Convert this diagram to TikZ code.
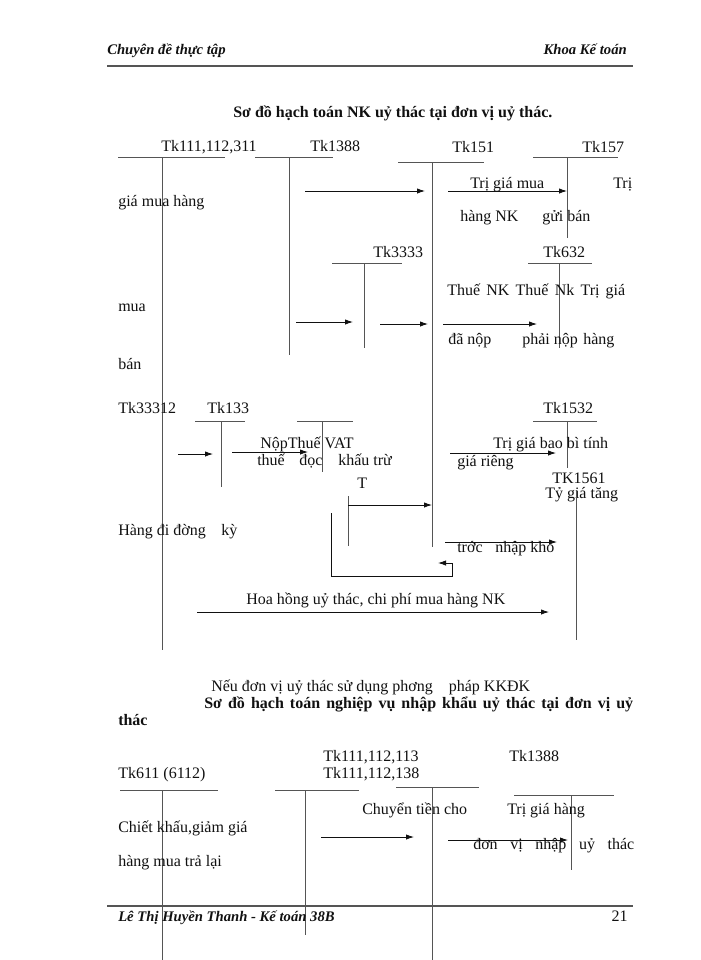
\documentclass[tikz,border=0pt]{standalone}
\usepackage{fontspec}
\setmainfont{Liberation Serif}
\usetikzlibrary{arrows.meta}
\definecolor{ink}{HTML}{111111}
\definecolor{rulegray}{HTML}{555555}
\newcommand{\bodysize}{\fontsize{12}{14}\selectfont}
\newcommand{\tacct}[5]{\draw[acc] (#1,#3) -- (#2,#3) (#4,#3) -- (#4,#5);}

\begin{document}
\begin{tikzpicture}[
  x=0.75pt, y=-0.75pt,
  font=\bodysize,
  txt/.style={anchor=mid west, inner sep=0pt, text=ink},
  head/.style={txt, font=\fontsize{11}{13}\selectfont\bfseries\itshape},
  ttl/.style={txt, font=\bodysize\bfseries},
  acc/.style={draw=rulegray, line width=0.7pt},
  flow/.style={-{Latex[length=6pt,width=4pt]}, draw=ink, line width=0.6pt}
]
\fill[white] (0,0) rectangle (700,960);
\useasboundingbox (0,0) rectangle (700,960);

\node[head] (hdl) at (107,51) {Chuyên đề thực tập};
\node[head, anchor=mid east] (hdr) at (627,51) {Khoa Kế toán};
\draw[rulegray, line width=1.3pt] (107,66) -- (633,66);

\node[ttl] (ttl1) at (233,114) {Sơ đồ hạch toán NK uỷ thác tại đơn vị uỷ thác.};

\node[txt] (tk111) at (161,148) {Tk111,112,311};
\tacct{118}{225}{157}{162}{650}
\node[txt] (tk1388) at (310,148) {Tk1388};
\tacct{255}{333}{157}{289}{355}
\node[txt] (tk151) at (452,149) {Tk151};
\tacct{398}{484}{162}{432}{547}
\node[txt] (tk157) at (582,149) {Tk157};
\tacct{533}{618}{157}{567}{238}

\draw[flow] (305,191) -- (425,191);
\draw[flow] (448,191) -- (567,191);
\node[txt] (buy) at (470,185) {Trị giá mua};
\node[txt] (buyR) at (613,185) {Trị};
\node[txt] (buyL) at (118,203) {giá mua hàng};
\node[txt] (nk) at (460,218) {hàng NK};
\node[txt] (sent) at (542,218) {gửi bán};

\node[txt] (tk3333) at (373,254) {Tk3333};
\tacct{332}{402}{263}{364}{348}
\node[txt] (tk632) at (543,254) {Tk632};
\tacct{528}{592}{263}{559}{348}
\node[txt] (duty) at (447,292) {\makebox[133.5pt][s]{Thuế NK Thuế Nk Trị giá}};
\node[txt] (costL) at (118,308) {mua};
\draw[flow] (296,322) -- (353,322);
\draw[flow] (380,324) -- (428,324);
\draw[flow] (443,324) -- (537,324);
\node[txt] (paid) at (448,341) {đã nộp};
\node[txt] (due) at (522,341) {phải nộp};
\node[txt] (goods) at (583,341) {hàng};
\node[txt] (sold) at (118,366) {bán};

\node[txt] (tk33312) at (118,410) {Tk33312};
\node[txt] (tk133) at (207,410) {Tk133};
\tacct{195}{245}{421}{221}{487}
\tacct{297}{353}{421}{322}{472}
\draw[flow] (178,454) -- (213,454);
\draw[flow] (232,452) -- (308,452);
\node[txt] (vat) at (260,445) {NộpThuế VAT};
\node[txt] (vatA) at (257,462) {thuế};
\node[txt] (vatB) at (299,462) {đọc};
\node[txt] (vatC) at (338,462) {khấu trừ};
\node[txt] (tT) at (357,485) {T};
\draw[acc] (348,496) -- (348,546);
\draw[flow] (348,505) -- (432,505);
\draw[flow] (331,513) -- (331,576) -- (452,576) -- (452,563) -- (438,563);

\node[txt] (tk1532) at (543,410) {Tk1532};
\tacct{533}{597}{421}{567}{468}
\draw[flow] (450,453) -- (556,453);
\node[txt] (pack) at (493,445) {Trị giá bao bì tính};
\node[txt] (packL) at (457,463) {giá riêng};
\node[txt] (tk1561) at (552,480) {TK1561};
\node[txt] (rate) at (545,495) {Tỷ giá tăng};
\draw[acc] (576,490) -- (576,640);

\node[txt] (transit) at (118,532) {Hàng đi đờng};
\node[txt] (transitB) at (221,532) {kỳ};
\draw[flow] (445,542) -- (557,542);
\node[txt] (store) at (457,549) {trớc};
\node[txt] (storeB) at (495,549) {nhập kho};
\node[txt] (fee) at (246,601) {Hoa hồng uỷ thác, chi phí mua hàng NK};
\draw[flow] (197,612) -- (549,612);

\node[txt] (kkdk) at (211,688) {Nếu đơn vị uỷ thác sử dụng phơng\quad pháp KKĐK};
\node[ttl] (ttl2) at (204,705) {\makebox[321.75pt][s]{Sơ đồ hạch toán nghiệp vụ nhập khẩu uỷ thác tại đơn vị uỷ}};
\node[ttl] (ttl2b) at (118,722) {thác};

\node[txt] (tk113) at (323,758) {Tk111,112,113};
\node[txt] (tk1388b) at (509,758) {Tk1388};
\node[txt] (tk611) at (118,775) {Tk611 (6112)};
\node[txt] (tk138) at (323,775) {Tk111,112,138};
\tacct{120}{218}{790}{162}{960}
\tacct{275}{359}{790}{305}{935}
\tacct{396}{479}{787}{432}{960}
\tacct{514}{614}{795}{571}{870}
\node[txt] (move) at (362,811) {Chuyển tiền cho};
\node[txt] (worth) at (507,811) {Trị giá hàng};
\draw[flow] (321,837) -- (414,837);
\draw[flow] (448,840) -- (568,840);
\node[txt] (unit) at (473,846) {\makebox[120.75pt][s]{đơn vị nhập uỷ thác}};
\node[txt] (disc) at (118,829) {Chiết khấu,giảm giá};
\node[txt] (ret) at (118,863) {hàng mua trả lại};

\draw[rulegray, line width=0.8pt] (107,906) -- (633,906);
\node[head] (ftl) at (118,918) {Lê Thị Huyền Thanh - Kế toán 38B};
\node[txt, anchor=mid east] (ftr) at (628,918) {21};

\end{tikzpicture}
\end{document}
